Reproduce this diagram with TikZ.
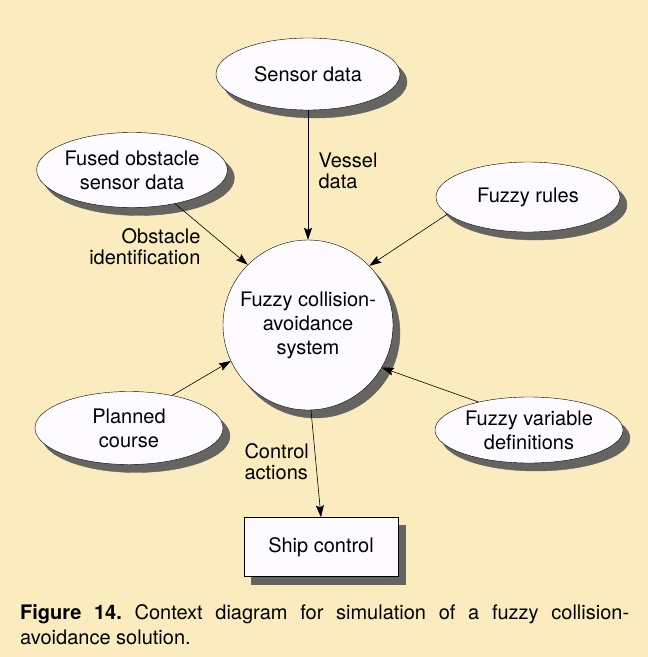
\documentclass[tikz,border=0pt]{standalone}
\usepackage{fontspec}
\setmainfont{TeX Gyre Heros}
\usepackage{tikz}
\usetikzlibrary{arrows.meta, positioning, shapes.geometric}
\definecolor{paper}{RGB}{250,236,191}
\definecolor{bubble}{RGB}{253,251,255}
\definecolor{shadowgrey}{RGB}{102,100,97}
\frenchspacing

\begin{document}
\begin{tikzpicture}[x=1pt, y=-1pt,
		txt/.style={font=\fontsize{20}{24}\selectfont, align=center},
		% grey shadow down and to the right, as printed
		shadowed/.style={preaction={fill=shadowgrey, draw=shadowgrey, transform canvas={xshift=7pt, yshift=-8pt}}},
		store/.style={txt, ellipse, draw, thin, fill=bubble, inner sep=0pt, shadowed},
		proc/.style={txt, circle, draw, thin, fill=bubble, inner sep=0pt, minimum size=170pt, shadowed},
		term/.style={txt, rectangle, draw, thin, fill=bubble, minimum width=154pt, minimum height=59pt, shadowed},
		flow/.style={-{Stealth[length=12pt, width=8pt, inset=2pt]}, semithick},
		flowtxt/.style={font=\fontsize{20}{21}\selectfont}]
	% page, cream like the printed figure
	\fill[paper] (0,0) rectangle (648,657);

	\node[proc] (sys) at (308,325) {Fuzzy collision-\\avoidance\\system};
	\node[store, minimum width=184pt, minimum height=72pt] (sensor) at (308,74) {Sensor data};
	\node[store, minimum width=190pt, minimum height=75pt] (fused) at (132,170) {Fused obstacle\\sensor data};
	\node[store, minimum width=184pt, minimum height=70pt] (rules) at (528,197) {Fuzzy rules};
	\node[store, minimum width=188pt, minimum height=73pt] (course) at (129,428) {Planned\\course};
	\node[store, minimum width=188pt, minimum height=66pt] (defs) at (529,430) {Fuzzy variable\\definitions};
	\node[term] (ship) at (321,547) {Ship control};

	% data flows into / out of the system bubble
	\draw[flow] (sensor.south) -- (sys.north);
	\draw[flow] (fused.-38) -- (sys.135);
	\draw[flow] (rules.192) -- (sys.44);
	\draw[flow] (course.37) -- (sys.205);
	\draw[flow] (defs.151) -- (sys.-30);
	\draw[flow] (sys.-88) -- (ship.north);

	\node[flowtxt, align=left, anchor=west] (vessel) at (315,171) {Vessel\\data};
	\node[flowtxt, align=right, anchor=east] (ident) at (204,247) {Obstacle\\identification};
	\node[flowtxt, align=left, anchor=west] (actions) at (241,462) {Control\\actions};

	\node[font=\fontsize{20}{25}\selectfont, text width=609pt, align=justify, inner sep=0pt, anchor=north west] (caption) at (20,604)
		{\textbf{Figure 14.} Context diagram for simulation of a fuzzy collision-avoidance solution.};
\end{tikzpicture}
\end{document}
